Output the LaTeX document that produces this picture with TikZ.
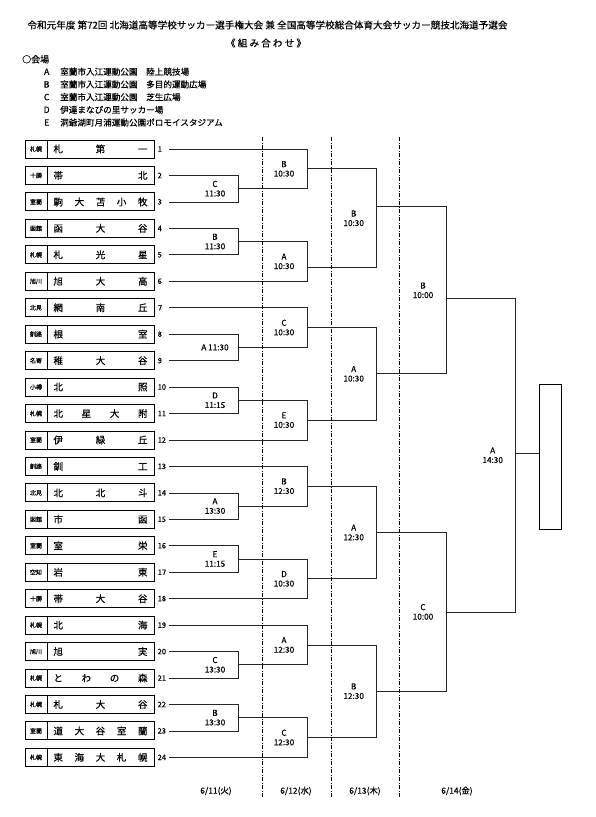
\documentclass[tikz,border=0pt]{standalone}
\usepackage{fontspec}
\setmainfont{Noto Sans CJK JP}[FakeBold=0.4]
\usetikzlibrary{calc}
\usetikzlibrary{positioning}

\begin{document}
\begin{tikzpicture}[x=1pt, y=-1pt,
        cell/.style={rectangle, draw=black, line width=0.9pt, minimum height=18pt, inner sep=0pt, outer sep=0pt},
        regbox/.style={cell, minimum width=22pt, font=\fontsize{6}{7}\selectfont},
        namebox/.style={cell, minimum width=107pt, font=\fontsize{9.5}{10}\selectfont},
        seedno/.style={anchor=west, inner sep=0pt, font=\fontsize{7.5}{8}\selectfont},
        tie/.style={draw=black!85, line width=0.7pt},
        venue/.style={align=center, inner sep=0pt, font=\fontsize{8.2}{9.5}\selectfont},
        dayline/.style={draw=black, line width=0.6pt, dash pattern=on 4pt off 1.5pt on 1pt off 1.5pt}]
            \useasboundingbox (0,0) rectangle (596,817);
            \node[font=\fontsize{9.6}{11}\selectfont] (title) at (267.5,25) {令和元年度 第72回 北海道高等学校サッカー選手権大会 兼 全国高等学校総合体育大会サッカー競技北海道予選会};
            \node[font=\fontsize{9.6}{11}\selectfont] (sub) at (266,43) {\hbox to 80pt{《\hfill 組\hfill み\hfill 合\hfill わ\hfill せ\hfill 》}};
            \node[anchor=west, inner sep=0pt, font=\fontsize{9}{11}\selectfont] (hall) at (22,59.3) {○会場};
            \def\halls{A/室蘭市入江運動公園　陸上競技場, B/室蘭市入江運動公園　多目的運動広場, C/室蘭市入江運動公園　芝生広場, D/伊達まなびの里サッカー場, E/洞爺湖町月浦運動公園ポロモイスタジアム}
            \foreach \k/\txt[count=\i from 1] in \halls
            {
                \node[inner sep=0pt, font=\fontsize{8.6}{10}\selectfont] (hk\i) at (46.7, 59+\i*12.7) {\k};
                \node[anchor=west, inner sep=0pt, font=\fontsize{8.6}{10}\selectfont] (h\i) at (60, 59+\i*12.7) {\txt};
            }
            \def\teams{札幌/札\hfill 第\hfill 一, 十勝/帯\hfill 北, 室蘭/駒\hfill 大\hfill 苫\hfill 小\hfill 牧, 函館/函\hfill 大\hfill 谷, 札幌/札\hfill 光\hfill 星, 旭川/旭\hfill 大\hfill 高, 北見/網\hfill 南\hfill 丘, 釧路/根\hfill 室, 名寄/稚\hfill 大\hfill 谷, 小樽/北\hfill 照, 札幌/北\hfill 星\hfill 大\hfill 附, 室蘭/伊\hfill 緑\hfill 丘, 釧路/釧\hfill 工, 北見/北\hfill 北\hfill 斗, 函館/市\hfill 函, 室蘭/室\hfill 栄, 空知/岩\hfill 東, 十勝/帯\hfill 大\hfill 谷, 札幌/北\hfill 海, 旭川/旭\hfill 実, 札幌/と\hfill わ\hfill の\hfill 森, 札幌/札\hfill 大\hfill 谷, 室蘭/道\hfill 大\hfill 谷\hfill 室\hfill 蘭, 札幌/東\hfill 海\hfill 大\hfill 札\hfill 幌}
            \foreach \reg/\name[count=\i from 1] in \teams
            {
                \node[regbox] (a\i) at (36, 122.55+\i*26.45) {\reg};
                \node[namebox, right=0pt of a\i] (t\i) {\hbox to 94pt{\name}};
                \node[seedno] (n\i) at (157.5, 122.55+\i*26.45) {\i};
                \coordinate (s\i) at (169, 122.55+\i*26.45);
            }
            \coordinate (c1) at (238,0);
            \coordinate (c2) at (307,0);
            \coordinate (c3) at (376.7,0);
            \coordinate (c4) at (446,0);
            \coordinate (c5) at (515.7,0);
            \foreach \m/\a/\b/\c/\f/\lab in {r1a/s2/s3/c1/0.5/C\\11:30, r1b/s4/s5/c1/0.5/B\\11:30, r1c/s8/s9/c1/0.5/A 11:30, r1d/s10/s11/c1/0.5/D\\11:15, r1e/s14/s15/c1/0.5/A\\13:30, r1f/s16/s17/c1/0.5/E\\11:15, r1g/s20/s21/c1/0.5/C\\13:30, r1h/s22/s23/c1/0.5/B\\13:30, r2a/s1/r1a/c2/0.5/B\\10:30, r2b/r1b/s6/c2/0.66/A\\10:30, r2c/s7/r1c/c2/0.5/C\\10:30, r2d/r1d/s12/c2/0.5/E\\10:30, r2e/s13/r1e/c2/0.5/B\\12:30, r2f/r1f/s18/c2/0.5/D\\10:30, r2g/s19/r1g/c2/0.5/A\\12:30, r2h/r1h/s24/c2/0.5/C\\12:30, r3a/r2a/r2b/c3/0.384/B\\10:30, r3b/r2c/r2d/c3/0.5/A\\10:30, r3c/r2e/r2f/c3/0.5/A\\12:30, r3d/r2g/r2h/c3/0.5/B\\12:30, sf1/r3a/r3b/c4/0.55/B\\10:00, sf2/r3c/r3d/c4/0.5/C\\10:00, fin/sf1/sf2/c5/0.495/A\\14:30}
            {
                \coordinate (\m-h) at ($(\a)!\f!(\b)$);
                \coordinate (\m-k) at ($(\a)!0.5!(\b)$);
                \coordinate (\m) at (\m-h -| \c);
                \coordinate (\m-x) at (\m-k -| \c);
                \draw[tie] (\a) -- (\a -| \c) -- (\b -| \c) -- (\b);
                \node[venue] (\m-t) at ([xshift=-23pt]\m-x) {\lab};
            }
            \node[cell, minimum width=22.7pt, minimum height=145pt] (champ) at (550.3,456.8) {};
            \draw[tie] (fin) -- (fin -| champ.west);
            \foreach \x in {262, 331, 399.3}
            {
                \draw[dayline] (\x,137) -- (\x,797);
            }
            \foreach \x/\d[count=\i from 1] in {216/{6/11(火)}, 296/{6/12(水)}, 365/{6/13(木)}, 457/{6/14(金)}}
            {
                \node[inner sep=0pt, font=\fontsize{8.4}{9}\selectfont] (d\i) at (\x,791) {\d};
            }
        \end{tikzpicture}
\end{document}
